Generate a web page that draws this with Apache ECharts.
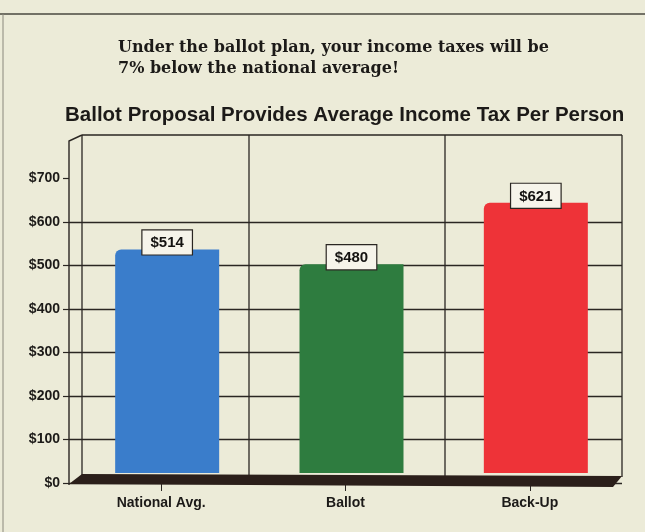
<!DOCTYPE html>
<html><head><meta charset="utf-8">
<script src="https://cdn.jsdelivr.net/npm/echarts@6/dist/echarts.min.js"></script>
<style>html,body{margin:0;padding:0;background:#ecebd9}#c{width:645px;height:532px}</style>
</head><body><div id="c"></div>
<script>
// ---- data ----
const categories = ['National Avg.', 'Ballot', 'Back-Up'];
const taxValues = [514, 480, 621];
const yTicks = [0, 100, 200, 300, 400, 500, 600, 700];
const yMax = 800;
const yStep = 100;
const headline = 'Under the ballot plan, your income taxes will be\n7% below the national average!';
const chartTitle = 'Ballot Proposal Provides Average Income Tax Per Person';

// ---- style ----
const barColors = ['#3a7dcb', '#2e7c3f', '#ee3338'];
const ink = '#2a2622';
const paper = '#ecebd8';

const chart = echarts.init(document.getElementById('c'), null, {renderer: 'canvas'});

const option = {
  backgroundColor: paper,
  animation: false,
  title: [
    {text: headline, left: 118, top: 37, padding: 0,
     textStyle: {fontFamily: 'DejaVu Serif', fontWeight: 'bold', fontSize: 16, lineHeight: 21, color: '#1c1a18'}},
    {text: chartTitle, left: 65, top: 105, padding: 0,
     textStyle: {fontFamily: 'Liberation Sans', fontWeight: 'bold', fontSize: 20.5, color: '#1c1a18'}}
  ],
  grid: [
    {left: 69, right: 23, top: 135, bottom: 49},
    {left: 75, right: 17, top: 125, bottom: 59}
  ],
  xAxis: [
    {type: 'category', gridIndex: 0, data: categories,
     axisLine: {show: false},
     axisTick: {show: true, alignWithLabel: true, length: 8, lineStyle: {color: ink, width: 1}},
     axisLabel: {margin: 13, fontFamily: 'Liberation Sans', fontWeight: 'bold', fontSize: 14, color: '#1c1a18'},
     splitLine: {show: false}},
    {type: 'category', gridIndex: 1, data: categories, show: false}
  ],
  yAxis: [
    {type: 'value', gridIndex: 0, min: 0, max: yMax, interval: yStep,
     axisLine: {show: false},
     axisTick: {show: true, length: 6, customValues: yTicks, lineStyle: {color: ink, width: 1.2}},
     axisLabel: {margin: 9, fontFamily: 'Liberation Sans', fontWeight: 'bold', fontSize: 14, color: '#1c1a18',
       customValues: yTicks, formatter: v => '$' + v},
     splitLine: {show: true, showMaxLine: false, lineStyle: {color: ink, width: 1.3}}},
    {type: 'value', gridIndex: 1, min: 0, max: yMax, interval: yStep, show: false, splitLine: {show: false}}
  ],
  series: [{
    type: 'bar', xAxisIndex: 1, yAxisIndex: 1,
    data: taxValues.map((v, i) => ({value: v, itemStyle: {color: barColors[i]}})),
    barWidth: 104,
    itemStyle: {borderRadius: [6, 0, 0, 0]},
    label: {show: true, position: 'top', distance: 0, offset: [0, 5],
      formatter: p => '$' + p.value,
      fontFamily: 'Liberation Sans', fontWeight: 'bold', fontSize: 15, color: '#141210',
      backgroundColor: '#f6f4ea', borderColor: ink, borderWidth: 1.2, padding: [5, 8, 4, 8]},
    z: 2
  }]
};
chart.setOption(option);

// decorative 3D frame derived from the axis scale
const y0 = chart.convertToPixel({yAxisIndex: 0}, 0);
const yTop = chart.convertToPixel({yAxisIndex: 0}, yMax);
const gl = 69, gr = 645 - 23;
const wallX = [gl + 13, gl + 180, gl + 376, gr];
const g = [];
wallX.forEach(x => g.push({type: 'line', z: 5, shape: {x1: x, y1: yTop, x2: x, y2: y0 - 6},
  style: {stroke: ink, lineWidth: 1.3}}));
// back wall top rim
g.push({type: 'line', z: 5, shape: {x1: gl + 13, y1: yTop, x2: gr, y2: yTop}, style: {stroke: ink, lineWidth: 1.3}});
// front left edge + top bevel
g.push({type: 'polyline', z: 5, shape: {points: [[gl, y0 + 2], [gl, yTop + 6], [gl + 13, yTop]]},
  style: {stroke: ink, lineWidth: 1.4, fill: null}});
// floor slab
g.push({type: 'polygon', z: 10, shape: {points: [[gl, y0 + 1], [gl + 13, y0 - 9], [gr, y0 - 7], [gr - 9, y0 + 4]]},
  style: {fill: '#2b1f1a'}});
// page rule lines
g.push({type: 'line', z: 5, shape: {x1: 0, y1: 14, x2: 645, y2: 14}, style: {stroke: '#4a4840', lineWidth: 1.5}});
g.push({type: 'line', z: 5, shape: {x1: 3, y1: 14, x2: 3, y2: 532}, style: {stroke: '#8a887c', lineWidth: 1}});
chart.setOption({graphic: g});
</script></body></html>
